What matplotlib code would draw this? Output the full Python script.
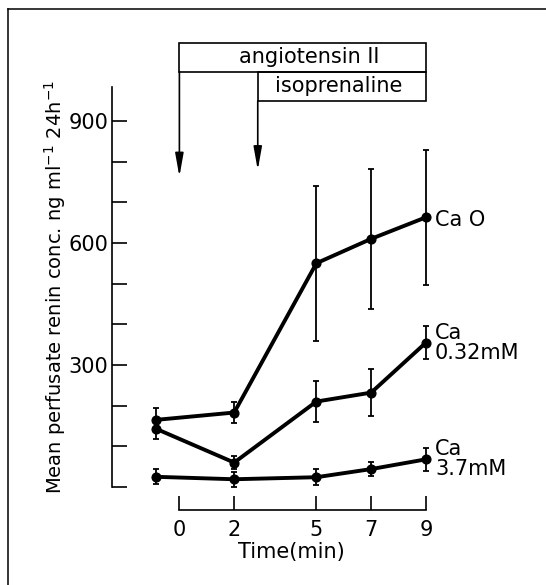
import matplotlib
matplotlib.use("Agg")
import matplotlib.pyplot as plt
from matplotlib.patches import Rectangle
from matplotlib.lines import Line2D

# sampling times (min); the first sample is the pre-infusion baseline
time = [-0.85, 2, 5, 7, 9]
time_ticks = [0, 2, 5, 7, 9]

ca0 = [165, 183, 550, 610, 663]
ca0_err = [29, 25, 190, 172, 166]

ca032 = [143, 60, 210, 232, 355]
ca032_err = [25, 15, 50, 58, 41]

ca37 = [25, 19, 24, 44, 68]
ca37_err = [18, 18, 20, 18, 29]

series_labels = ["Ca O", "Ca\n0.32mM", "Ca\n3.7mM"]
label_y = [656, 353, 69]

plt.rcParams['font.family'] = 'DejaVu Sans'

fig = plt.figure(figsize=(5.46, 5.85), dpi=100)
ax = fig.add_axes([0.2046, 0.1282, 0.6007, 0.7236])

ax.set_xlim(-2.47, 9.5)
ax.set_ylim(-56.6, 984)

for vals, errs in [(ca0, ca0_err), (ca032, ca032_err), (ca37, ca37_err)]:
    ax.errorbar(time, vals, yerr=errs, fmt='-o', color='k', lw=2.8, ms=6.3,
                elinewidth=1.3, capsize=2.4, capthick=1.3)

for lab, yy in zip(series_labels, label_y):
    ax.text(9.33, yy, lab, ha='left', va='center', fontsize=15, linespacing=1.0)

# axes: detached y and x lines
ax.spines[['right', 'top']].set_visible(False)
ax.spines['left'].set_bounds(0, 984)
ax.spines['bottom'].set_bounds(0, 9)
ax.spines['left'].set_linewidth(1.2)
ax.spines['bottom'].set_linewidth(1.2)

ax.set_yticks([300, 600, 900])
ax.set_yticks([0, 100, 200, 400, 500, 700, 800], minor=True)
ax.tick_params(axis='y', which='both', direction='in', length=10.8, width=1.2,
               labelsize=15, pad=2.5)
ax.set_xticks(time_ticks)
ax.set_xticklabels([str(t) for t in time_ticks])
ax.tick_params(axis='x', direction='in', length=10, width=1.2, labelsize=15, pad=7)

fig.text(291 / 546, 1 - 552 / 585, 'Time(min)', ha='center', va='center', fontsize=15)
fig.text(55 / 546, 1 - 287 / 585,
         'Mean perfusate renin conc. ng ml$^{-1}$ 24h$^{-1}$',
         rotation=90, ha='center', va='center', fontsize=14)

# drug infusion bars and arrows
ax.add_patch(Rectangle((0, 1021), 9, 70, fill=False, lw=1.2, ec='k', clip_on=False))
ax.add_patch(Rectangle((2.86, 949), 9 - 2.86, 72, fill=False, lw=1.2, ec='k', clip_on=False))
ax.text(4.73, 1056, 'angiotensin II', ha='center', va='center', fontsize=15)
ax.text(5.8, 985, 'isoprenaline', ha='center', va='center', fontsize=15)

for x0, y0, y1 in [(0, 1021, 763), (2.86, 949, 779)]:
    ax.annotate('', xy=(x0, y1), xytext=(x0, y0), annotation_clip=False,
                arrowprops=dict(arrowstyle='-|>,head_length=1.4,head_width=0.25',
                                lw=1.2, color='k', shrinkA=0, shrinkB=0,
                                mutation_scale=10))

# frame lines along the left and top edges
fig.add_artist(Line2D([8 / 546, 8 / 546], [0, 1 - 9 / 585], color='k', lw=1.1))
fig.add_artist(Line2D([8 / 546, 1], [1 - 9 / 585, 1 - 9 / 585], color='k', lw=1.1))

fig.savefig('out.png', dpi=100, facecolor='white')
